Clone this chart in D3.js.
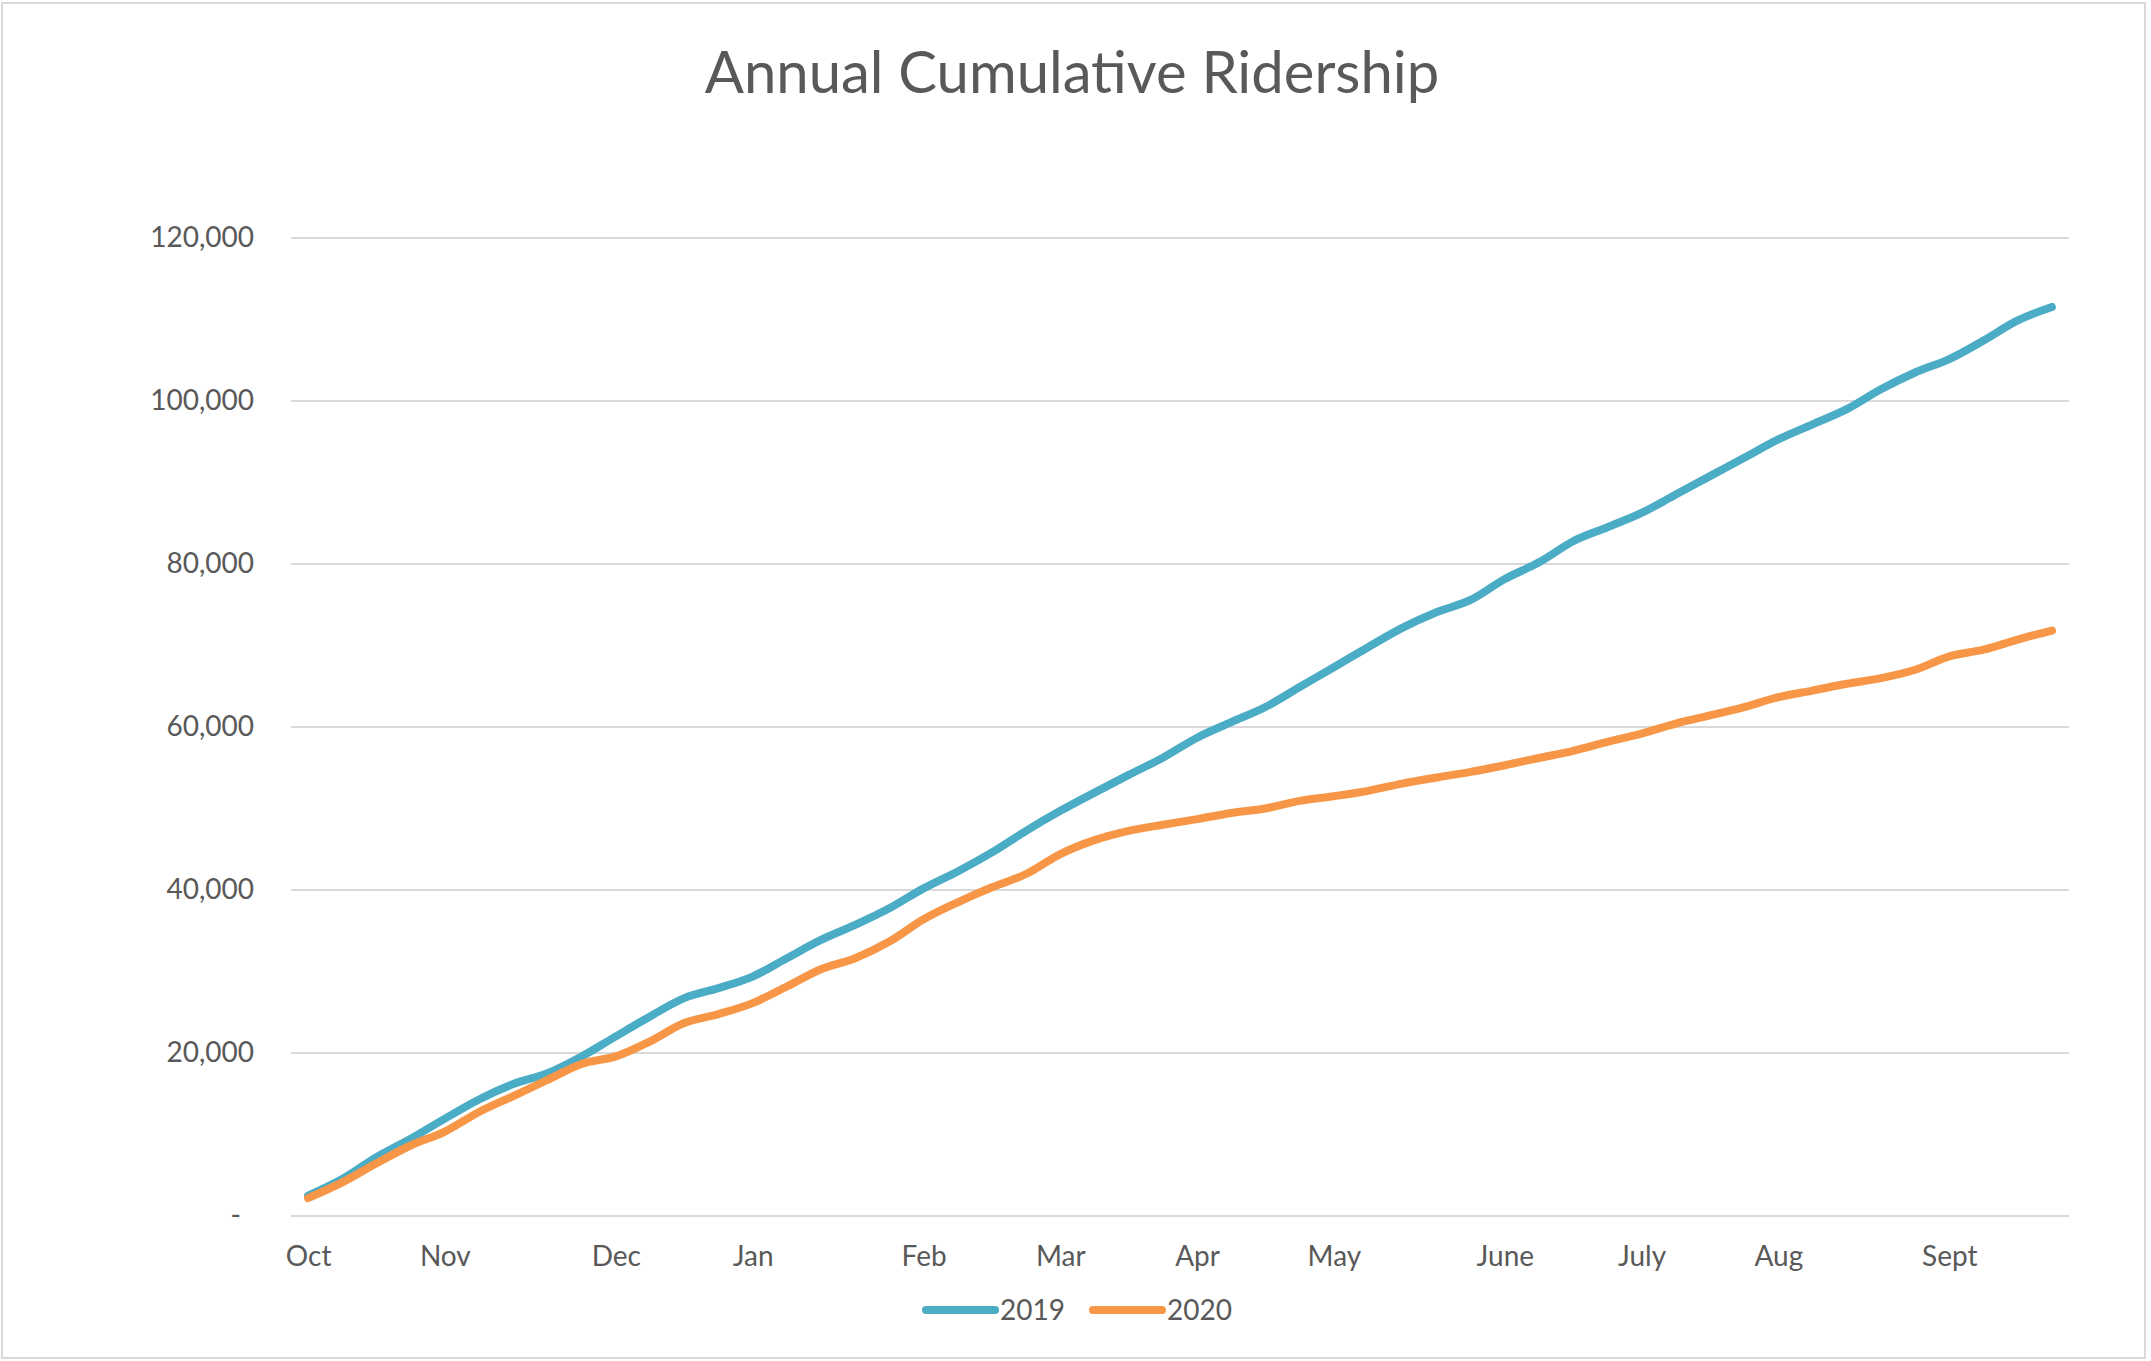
<!DOCTYPE html>
<html>
<head>
<meta charset="utf-8">
<script src="https://cdn.jsdelivr.net/npm/d3@7"></script>
<style>
  body { margin: 0; background: #fff; }
  svg { display: block; font-family: Lato, 'Open Sans', sans-serif; }
</style>
</head>
<body>
<div id="chart"></div>
<script>
// weekly categories, a month name on the first week of each month
const weekLabels = [
  'Oct', '', '', '',
  'Nov', '', '', '', '',
  'Dec', '', '', '',
  'Jan', '', '', '', '',
  'Feb', '', '', '',
  'Mar', '', '', '',
  'Apr', '', '', '',
  'May', '', '', '', '',
  'June', '', '', '',
  'July', '', '', '',
  'Aug', '', '', '', '',
  'Sept', '', '', ''
]

const riders2019 = [
  2500, 4530, 7210, 9480, 11950, 14300, 16190, 17510, 19570, 22040,
  24490, 26730, 27960, 29380, 31630, 33870, 35710, 37750, 40200, 42280,
  44610, 47260, 49710, 51950, 54120, 56240, 58690, 60600, 62450, 64900,
  67340, 69790, 72160, 74080, 75590, 78160, 80200, 82790, 84510, 86270,
  88530, 90780, 93040, 95290, 97140, 99000, 101440, 103500, 105150, 107420,
  109890, 111540
]

const riders2020 = [
  2200, 4120, 6470, 8650, 10350, 12770, 14710, 16690, 18660, 19580,
  21430, 23670, 24770, 26120, 28160, 30280, 31630, 33670, 36400, 38490,
  40330, 41960, 44410, 46120, 47260, 48000, 48690, 49450, 50000, 50940,
  51510, 52170, 53060, 53800, 54490, 55310, 56200, 57070, 58170, 59190,
  60410, 61420, 62440, 63660, 64470, 65300, 65990, 67020, 68670, 69490,
  70730, 71840
]

const yTicks = [0, 20000, 40000, 60000, 80000, 100000, 120000]

const seriesNames = ['2019', '2020']

const colors = {
  text: '#595959',
  grid: '#d9d9d9',
  border: '#d9d9d9',
  s2019: '#4bacc6',
  s2020: '#f79646'
}

const W = 2151
const H = 1361
const plot = { left: 291, right: 2069, top: 238, bottom: 1216 }

const svg = d3.select('#chart').append('svg')
  .attr('width', W)
  .attr('height', H)

svg.append('rect')
  .attr('x', 2).attr('y', 3)
  .attr('width', W - 8).attr('height', H - 6)
  .attr('fill', '#fff')
  .attr('stroke', colors.border)
  .attr('stroke-width', 2)

const x = d3.scalePoint()
  .domain(d3.range(weekLabels.length))
  .range([plot.left, plot.right])
  .padding(0.5)

const y = d3.scaleLinear()
  .domain([0, 120000])
  .range([plot.bottom, plot.top])

// gridlines
svg.append('g')
  .selectAll('line')
  .data(yTicks)
  .join('line')
  .attr('x1', plot.left)
  .attr('x2', plot.right)
  .attr('y1', d => y(d))
  .attr('y2', d => y(d))
  .attr('stroke', colors.grid)
  .attr('stroke-width', 2)

// y labels (accounting style, dash for zero)
const yAxis = svg.append('g')
  .attr('transform', `translate(254,0)`)
  .call(d3.axisLeft(y).tickValues(yTicks).tickSize(0).tickPadding(0)
    .tickFormat(d => d === 0 ? '-' : d3.format(',')(d)))
yAxis.select('.domain').remove()
yAxis.selectAll('text')
  .attr('fill', colors.text)
  .attr('font-size', 28)
  .attr('font-family', 'Lato, sans-serif')
  .attr('dx', d => d === 0 ? -13 : 0)

const xAxis = svg.append('g')
  .attr('transform', `translate(0,${plot.bottom})`)
  .call(d3.axisBottom(x).tickSize(0).tickPadding(0).tickFormat(i => weekLabels[i]))
xAxis.select('.domain').remove()
xAxis.selectAll('text')
  .attr('fill', colors.text)
  .attr('font-size', 28)
  .attr('font-family', 'Lato, sans-serif')
  .attr('y', 50)
  .attr('dy', 0)

const line = d3.line()
  .x((d, i) => x(i))
  .y(d => y(d))
  .curve(d3.curveMonotoneX)

const series = [
  { name: seriesNames[0], values: riders2019, color: colors.s2019 },
  { name: seriesNames[1], values: riders2020, color: colors.s2020 }
]

svg.append('g')
  .selectAll('path')
  .data(series)
  .join('path')
  .attr('d', d => line(d.values))
  .attr('fill', 'none')
  .attr('stroke', d => d.color)
  .attr('stroke-width', 8)
  .attr('stroke-linecap', 'round')
  .attr('stroke-linejoin', 'round')

// title
svg.append('text')
  .attr('x', 1072)
  .attr('y', 93)
  .attr('text-anchor', 'middle')
  .attr('fill', colors.text)
  .attr('font-size', 58)
  .text('Annual Cumulative Ridership')

// legend
const legend = svg.append('g')
  .selectAll('g')
  .data(series)
  .join('g')
  .attr('transform', (d, i) => `translate(${926 + i * 167},1310)`)

legend.append('line')
  .attr('x1', 0).attr('x2', 69)
  .attr('stroke', d => d.color)
  .attr('stroke-width', 8)
  .attr('stroke-linecap', 'round')

legend.append('text')
  .attr('x', 74)
  .attr('y', 10)
  .attr('fill', colors.text)
  .attr('font-size', 28)
  .text(d => d.name)
</script>
</body>
</html>
